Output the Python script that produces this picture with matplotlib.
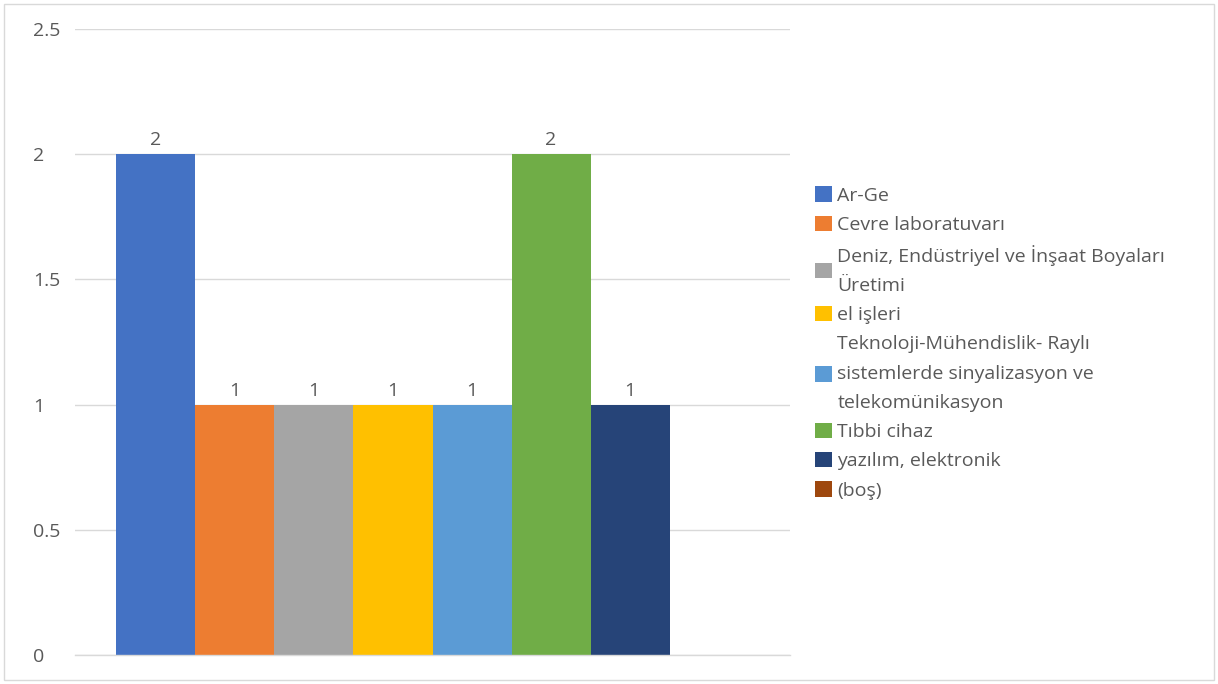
import numpy as np
import matplotlib.pyplot as plt
from matplotlib.patches import Rectangle

plt.rcParams['font.family'] = ['Open Sans', 'DejaVu Sans']

labels = ['Ar-Ge', 'Cevre laboratuvarı',
          'Deniz, Endüstriyel ve İnşaat Boyaları\nÜretimi',
          'el işleri',
          'Teknoloji-Mühendislik- Raylı\nsistemlerde sinyalizasyon ve\ntelekomünikasyon',
          'Tıbbi cihaz', 'yazılım, elektronik', '(boş)']
values = [2, 1, 1, 1, 1, 2, 1, np.nan]
colors = ['#4472C4', '#ED7D31', '#A5A5A5', '#FFC000', '#5B9BD5',
          '#70AD47', '#264478', '#9E480E']

text_color = '#595959'
grid_color = '#D9D9D9'
fs = 14

fig = plt.figure(figsize=(12.18, 6.84), dpi=100)
ax = fig.add_axes([75 / 1218, 1 - 655 / 684, 715 / 1218, 626 / 684])

n = len(values)
width = 1.0 / (n + 1.05)
offsets = (np.arange(n) - (n - 1) / 2) * width
handles = []
for off, v, c, lab in zip(offsets, values, colors, labels):
    h = ax.bar(off, 0 if np.isnan(v) else v, width, color=c, label=lab)
    handles.append(h)
    if not np.isnan(v):
        ax.text(off, v + 0.02, f'{v:g}', ha='center', va='bottom',
                fontsize=fs, color=text_color)

ax.set_xlim(-0.5, 0.5)
ax.set_ylim(0, 2.5)
ax.set_yticks([0, 0.5, 1, 1.5, 2, 2.5])
ax.set_yticklabels(['0', '0.5', '1', '1.5', '2', '2.5'])
ax.set_xticks([])
ax.tick_params(axis='y', length=0, pad=30, labelsize=fs, labelcolor=text_color)
for t in ax.get_yticklabels():
    t.set_horizontalalignment('left')
ax.yaxis.grid(True, color=grid_color, linewidth=1)
ax.set_axisbelow(True)
for s in ['top', 'right', 'left']:
    ax.spines[s].set_visible(False)
ax.spines['bottom'].set_color(grid_color)
ax.spines['bottom'].set_linewidth(1)

leg = fig.legend(handles=handles, loc='center left',
                 bbox_to_anchor=(815 / 1218, 1 - 343 / 684),
                 frameon=False, fontsize=fs, handlelength=0.85,
                 handleheight=0.85, handletextpad=0.3, labelspacing=0.55,
                 borderpad=0, borderaxespad=0, labelcolor=text_color)
for t in leg.get_texts():
    t.set_linespacing(1.82)

fig.patches.append(Rectangle((4 / 1218, 4 / 684), 1210 / 1218, 676 / 684,
                             transform=fig.transFigure, fill=False,
                             edgecolor='#D9D9D9', linewidth=1))

fig.savefig('out.png', dpi=100)
